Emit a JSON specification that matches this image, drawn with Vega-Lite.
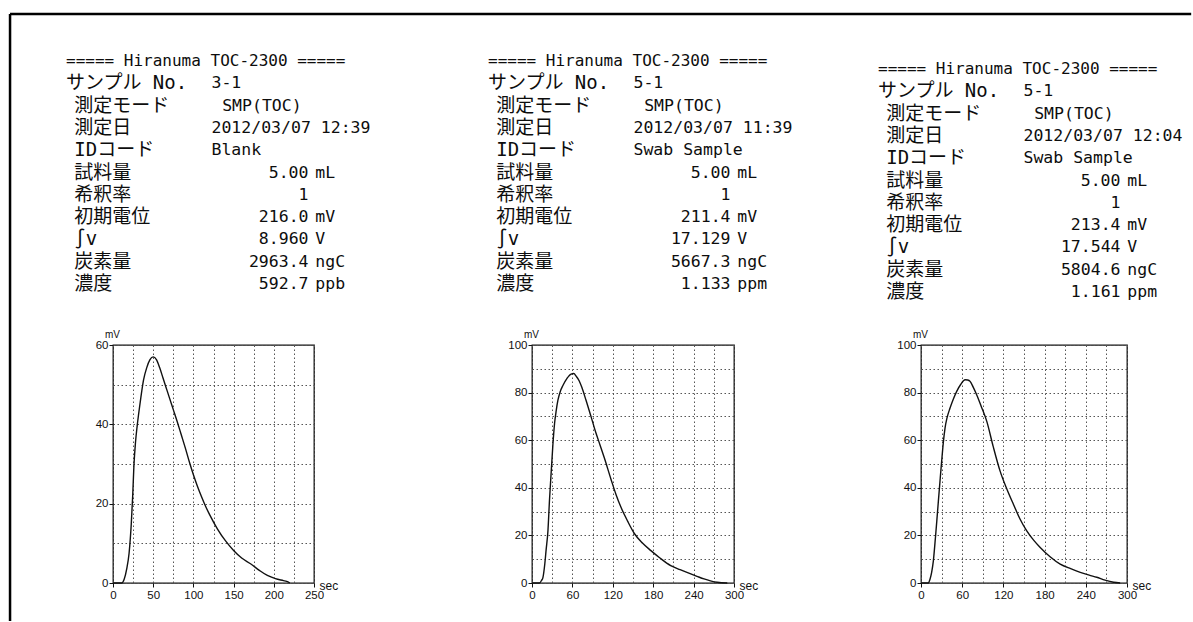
{
  "$schema": "https://vega.github.io/schema/vega-lite/v6.json",
  "background": "white",
  "padding": {"left": 8, "top": 12, "right": 0, "bottom": 0},
  "bounds": "flush",
  "align": "each",
  "columns": 3,
  "spacing": {"row": 41, "column": 187},
  "datasets": {
    "info": [
      {"panel":"A","item":"===== Hiranuma TOC-2300 =====","val":"","num":"","unit":""},
      {"panel":"A","item":"サンプル No.","val":"3-1","num":"","unit":""},
      {"panel":"A","item":"測定モード","val":"SMP(TOC)","num":"","unit":""},
      {"panel":"A","item":"測定日","val":"2012/03/07 12:39","num":"","unit":""},
      {"panel":"A","item":"IDコード","val":"Blank","num":"","unit":""},
      {"panel":"A","item":"試料量","val":"","num":"5.00","unit":"mL"},
      {"panel":"A","item":"希釈率","val":"","num":"1","unit":""},
      {"panel":"A","item":"初期電位","val":"","num":"216.0","unit":"mV"},
      {"panel":"A","item":"∫v","val":"","num":"8.960","unit":"V"},
      {"panel":"A","item":"炭素量","val":"","num":"2963.4","unit":"ngC"},
      {"panel":"A","item":"濃度","val":"","num":"592.7","unit":"ppb"},
      {"panel":"B","item":"===== Hiranuma TOC-2300 =====","val":"","num":"","unit":""},
      {"panel":"B","item":"サンプル No.","val":"5-1","num":"","unit":""},
      {"panel":"B","item":"測定モード","val":"SMP(TOC)","num":"","unit":""},
      {"panel":"B","item":"測定日","val":"2012/03/07 11:39","num":"","unit":""},
      {"panel":"B","item":"IDコード","val":"Swab Sample","num":"","unit":""},
      {"panel":"B","item":"試料量","val":"","num":"5.00","unit":"mL"},
      {"panel":"B","item":"希釈率","val":"","num":"1","unit":""},
      {"panel":"B","item":"初期電位","val":"","num":"211.4","unit":"mV"},
      {"panel":"B","item":"∫v","val":"","num":"17.129","unit":"V"},
      {"panel":"B","item":"炭素量","val":"","num":"5667.3","unit":"ngC"},
      {"panel":"B","item":"濃度","val":"","num":"1.133","unit":"ppm"},
      {"panel":"C","item":"===== Hiranuma TOC-2300 =====","val":"","num":"","unit":""},
      {"panel":"C","item":"サンプル No.","val":"5-1","num":"","unit":""},
      {"panel":"C","item":"測定モード","val":"SMP(TOC)","num":"","unit":""},
      {"panel":"C","item":"測定日","val":"2012/03/07 12:04","num":"","unit":""},
      {"panel":"C","item":"IDコード","val":"Swab Sample","num":"","unit":""},
      {"panel":"C","item":"試料量","val":"","num":"5.00","unit":"mL"},
      {"panel":"C","item":"希釈率","val":"","num":"1","unit":""},
      {"panel":"C","item":"初期電位","val":"","num":"213.4","unit":"mV"},
      {"panel":"C","item":"∫v","val":"","num":"17.544","unit":"V"},
      {"panel":"C","item":"炭素量","val":"","num":"5804.6","unit":"ngC"},
      {"panel":"C","item":"濃度","val":"","num":"1.161","unit":"ppm"}
    ],
    "frame": [
      {"panel":"A","edge":"top"},
      {"panel":"A","edge":"left"}
    ],
    "curves": [
      {"panel":"A","t":0,"mV":0},{"panel":"A","t":11,"mV":0},{"panel":"A","t":14,"mV":1},{"panel":"A","t":17,"mV":3.5},
      {"panel":"A","t":20,"mV":7.5},{"panel":"A","t":22.7,"mV":14.8},{"panel":"A","t":24.5,"mV":22},{"panel":"A","t":26,"mV":29.5},
      {"panel":"A","t":28,"mV":35.5},{"panel":"A","t":30,"mV":39.5},{"panel":"A","t":32,"mV":42.8},{"panel":"A","t":35,"mV":47.3},
      {"panel":"A","t":38,"mV":51.2},{"panel":"A","t":42,"mV":54.3},{"panel":"A","t":46,"mV":56.3},{"panel":"A","t":50,"mV":57},
      {"panel":"A","t":54,"mV":56.3},{"panel":"A","t":58,"mV":54.3},{"panel":"A","t":62,"mV":51.8},{"panel":"A","t":66,"mV":49.3},
      {"panel":"A","t":70,"mV":46.8},{"panel":"A","t":75,"mV":43.7},{"panel":"A","t":80,"mV":40.6},{"panel":"A","t":85,"mV":37.3},
      {"panel":"A","t":90,"mV":34},{"panel":"A","t":95,"mV":30.5},{"panel":"A","t":100,"mV":27.3},{"panel":"A","t":105,"mV":24.4},
      {"panel":"A","t":110,"mV":21.8},{"panel":"A","t":115,"mV":19.4},{"panel":"A","t":120,"mV":17.3},{"panel":"A","t":130,"mV":13.6},
      {"panel":"A","t":140,"mV":10.6},{"panel":"A","t":150,"mV":8.2},{"panel":"A","t":160,"mV":6.3},{"panel":"A","t":171.5,"mV":4.8},
      {"panel":"A","t":182,"mV":3.2},{"panel":"A","t":192,"mV":1.9},{"panel":"A","t":202,"mV":1.1},{"panel":"A","t":212,"mV":0.6},
      {"panel":"A","t":216,"mV":0.4},{"panel":"A","t":220,"mV":0},
      {"panel":"B","t":0,"mV":0},{"panel":"B","t":11,"mV":0},{"panel":"B","t":14,"mV":1},{"panel":"B","t":16.3,"mV":2.4},
      {"panel":"B","t":19,"mV":8},{"panel":"B","t":21,"mV":14},{"panel":"B","t":23.7,"mV":22},{"panel":"B","t":26,"mV":35},
      {"panel":"B","t":28.6,"mV":47},{"panel":"B","t":31,"mV":58},{"panel":"B","t":33.5,"mV":67},{"panel":"B","t":36,"mV":72.5},
      {"panel":"B","t":38.5,"mV":76.8},{"panel":"B","t":42,"mV":80.5},{"panel":"B","t":45.9,"mV":83},{"panel":"B","t":52,"mV":86},
      {"panel":"B","t":58,"mV":87.8},{"panel":"B","t":62,"mV":88},{"panel":"B","t":65.6,"mV":86.9},{"panel":"B","t":70,"mV":85},
      {"panel":"B","t":74,"mV":82.2},{"panel":"B","t":80,"mV":77},{"panel":"B","t":87.8,"mV":69.8},{"panel":"B","t":95,"mV":63},
      {"panel":"B","t":101,"mV":58},{"panel":"B","t":107.5,"mV":52.5},{"panel":"B","t":117.4,"mV":43.5},{"panel":"B","t":125,"mV":37},
      {"panel":"B","t":132,"mV":31.9},{"panel":"B","t":142,"mV":26},{"panel":"B","t":152,"mV":20.8},{"panel":"B","t":164,"mV":16.8},
      {"panel":"B","t":176.6,"mV":13.6},{"panel":"B","t":190,"mV":10.5},{"panel":"B","t":206,"mV":7.3},{"panel":"B","t":220,"mV":5.6},
      {"panel":"B","t":235.8,"mV":3.8},{"panel":"B","t":245,"mV":2.8},{"panel":"B","t":255.5,"mV":1.7},{"panel":"B","t":265,"mV":0.9},
      {"panel":"B","t":275,"mV":0.3},{"panel":"B","t":290,"mV":0},
      {"panel":"C","t":0,"mV":0},{"panel":"C","t":10.7,"mV":0},{"panel":"C","t":13,"mV":1.5},{"panel":"C","t":15.5,"mV":4.5},
      {"panel":"C","t":18,"mV":9.3},{"panel":"C","t":21,"mV":19},{"panel":"C","t":23,"mV":26},{"panel":"C","t":25.3,"mV":34.4},
      {"panel":"C","t":28,"mV":44},{"panel":"C","t":30.1,"mV":51.2},{"panel":"C","t":32.5,"mV":59},{"panel":"C","t":35,"mV":65.1},
      {"panel":"C","t":38,"mV":69.5},{"panel":"C","t":42.3,"mV":73.5},{"panel":"C","t":47,"mV":77.2},{"panel":"C","t":52,"mV":80.5},
      {"panel":"C","t":58,"mV":83.5},{"panel":"C","t":64.2,"mV":85.4},{"panel":"C","t":68,"mV":85.3},{"panel":"C","t":71.5,"mV":84.7},
      {"panel":"C","t":76,"mV":82.3},{"panel":"C","t":81.2,"mV":79},{"panel":"C","t":88,"mV":74},{"panel":"C","t":95.8,"mV":67.9},
      {"panel":"C","t":105,"mV":57.5},{"panel":"C","t":115.2,"mV":47},{"panel":"C","t":125,"mV":39.5},{"panel":"C","t":134.7,"mV":33},
      {"panel":"C","t":144,"mV":27},{"panel":"C","t":154,"mV":21.9},{"panel":"C","t":164,"mV":18},{"panel":"C","t":173.6,"mV":14.9},
      {"panel":"C","t":188,"mV":11},{"panel":"C","t":202.7,"mV":7.9},{"panel":"C","t":218,"mV":6},{"panel":"C","t":231.9,"mV":4.5},
      {"panel":"C","t":245,"mV":3.3},{"panel":"C","t":256,"mV":2.4},{"panel":"C","t":268,"mV":1.2},{"panel":"C","t":280.5,"mV":0.3},
      {"panel":"C","t":290,"mV":0}
    ]
  },
  "concat": [
    {
      "width": 232, "height": 263,
      "view": {"stroke": null},
      "layer": [
        {
          "data": {"name": "info"},
          "transform": [{"filter": "datum.panel === 'A'"}],
          "encoding": {"y": {"field": "item", "type": "nominal", "sort": null, "scale": {"type": "point", "padding": 0.9}, "axis": null}},
          "layer": [
            {"mark": {"type": "text", "align": "left", "baseline": "middle"},
             "encoding": {"x": {"datum": 0, "type": "quantitative", "scale": {"domain": [4.845, 28.763], "nice": false, "zero": false}, "axis": null},
                          "text": {"condition": {"test": "indexof(datum.item, '=') === 0 || indexof(datum.item, 'サンプル') === 0", "field": "item"}, "value": ""},
                          "size": {"condition": {"test": "indexof(datum.item, '=') === 0", "value": 16}, "value": 19}}},
            {"mark": {"type": "text", "align": "left", "baseline": "middle", "fontSize": 19},
             "encoding": {"x": {"datum": 0.85, "type": "quantitative", "scale": {"domain": [4.845, 28.763], "nice": false, "zero": false}, "axis": null},
                          "text": {"condition": {"test": "indexof(datum.item, '=') !== 0 && indexof(datum.item, 'サンプル') !== 0", "field": "item"}, "value": ""}}},
            {"mark": {"type": "text", "align": "left", "baseline": "middle"},
             "encoding": {"x": {"datum": 15, "type": "quantitative", "scale": {"domain": [4.845, 28.763], "nice": false, "zero": false}, "axis": null},
                          "text": {"condition": {"test": "datum.val !== 'SMP(TOC)'", "field": "val"}, "value": ""}}},
            {"mark": {"type": "text", "align": "left", "baseline": "middle"},
             "encoding": {"x": {"datum": 16.1, "type": "quantitative", "scale": {"domain": [4.845, 28.763], "nice": false, "zero": false}, "axis": null},
                          "text": {"condition": {"test": "datum.val === 'SMP(TOC)'", "field": "val"}, "value": ""}}},
            {"mark": {"type": "text", "align": "right", "baseline": "middle"},
             "encoding": {"x": {"datum": 25, "type": "quantitative", "scale": {"domain": [4.845, 28.763], "nice": false, "zero": false}, "axis": null},
                          "text": {"field": "num"}}},
            {"mark": {"type": "text", "align": "left", "baseline": "middle"},
             "encoding": {"x": {"datum": 25.7, "type": "quantitative", "scale": {"domain": [4.845, 28.763], "nice": false, "zero": false}, "axis": null},
                          "text": {"field": "unit"}}}
          ]
        },
        {
          "data": {"name": "frame"},
          "transform": [{"filter": "datum.edge === 'top'"}],
          "mark": {"type": "rule", "color": "#000", "strokeWidth": 2.5},
          "encoding": {"x": {"datum": -5.77, "type": "quantitative", "scale": {"domain": [4.845, 28.763], "nice": false, "zero": false}, "axis": null},
                       "x2": {"datum": 116},
                       "y": {"datum": 1.1027, "type": "quantitative", "scale": {"domain": [0, 1], "nice": false, "zero": false}, "axis": null}}
        },
        {
          "data": {"name": "frame"},
          "transform": [{"filter": "datum.edge === 'left'"}],
          "mark": {"type": "rule", "color": "#000", "strokeWidth": 2.5},
          "encoding": {"x": {"datum": -5.77, "type": "quantitative", "scale": {"domain": [4.845, 28.763], "nice": false, "zero": false}, "axis": null},
                       "y": {"datum": 1.1027, "type": "quantitative", "scale": {"domain": [0, 1], "nice": false, "zero": false}, "axis": null},
                       "y2": {"datum": -1.2053}}
        }
      ],
      "resolve": {"scale": {"y": "independent"}}
    },
    {
      "width": 202, "height": 263,
      "view": {"stroke": null},
      "data": {"name": "info"},
      "transform": [{"filter": "datum.panel === 'B'"}],
      "encoding": {"y": {"field": "item", "type": "nominal", "sort": null, "scale": {"type": "point", "padding": 0.9}, "axis": null}},
      "layer": [
        {"mark": {"type": "text", "align": "left", "baseline": "middle"},
         "encoding": {"x": {"datum": 0, "type": "quantitative", "scale": {"domain": [4.536, 25.361], "nice": false, "zero": false}, "axis": null},
                      "text": {"condition": {"test": "indexof(datum.item, '=') === 0 || indexof(datum.item, 'サンプル') === 0", "field": "item"}, "value": ""},
                      "size": {"condition": {"test": "indexof(datum.item, '=') === 0", "value": 16}, "value": 19}}},
        {"mark": {"type": "text", "align": "left", "baseline": "middle", "fontSize": 19},
         "encoding": {"x": {"datum": 0.85, "type": "quantitative", "scale": {"domain": [4.536, 25.361], "nice": false, "zero": false}, "axis": null},
                      "text": {"condition": {"test": "indexof(datum.item, '=') !== 0 && indexof(datum.item, 'サンプル') !== 0", "field": "item"}, "value": ""}}},
        {"mark": {"type": "text", "align": "left", "baseline": "middle"},
         "encoding": {"x": {"datum": 15, "type": "quantitative", "scale": {"domain": [4.536, 25.361], "nice": false, "zero": false}, "axis": null},
                      "text": {"condition": {"test": "datum.val !== 'SMP(TOC)'", "field": "val"}, "value": ""}}},
        {"mark": {"type": "text", "align": "left", "baseline": "middle"},
         "encoding": {"x": {"datum": 16.1, "type": "quantitative", "scale": {"domain": [4.536, 25.361], "nice": false, "zero": false}, "axis": null},
                      "text": {"condition": {"test": "datum.val === 'SMP(TOC)'", "field": "val"}, "value": ""}}},
        {"mark": {"type": "text", "align": "right", "baseline": "middle"},
         "encoding": {"x": {"datum": 25, "type": "quantitative", "scale": {"domain": [4.536, 25.361], "nice": false, "zero": false}, "axis": null},
                      "text": {"field": "num"}}},
        {"mark": {"type": "text", "align": "left", "baseline": "middle"},
         "encoding": {"x": {"datum": 25.7, "type": "quantitative", "scale": {"domain": [4.536, 25.361], "nice": false, "zero": false}, "axis": null},
                      "text": {"field": "unit"}}}
      ]
    },
    {
      "width": 206, "height": 263,
      "view": {"stroke": null},
      "data": {"name": "info"},
      "transform": [{"filter": "datum.panel === 'C'"}],
      "encoding": {"y": {"field": "item", "type": "nominal", "sort": null, "scale": {"type": "point", "padding": 0.9, "align": 0.7}, "axis": null}},
      "layer": [
        {"mark": {"type": "text", "align": "left", "baseline": "middle"},
         "encoding": {"x": {"datum": 0, "type": "quantitative", "scale": {"domain": [4.433, 25.67], "nice": false, "zero": false}, "axis": null},
                      "text": {"condition": {"test": "indexof(datum.item, '=') === 0 || indexof(datum.item, 'サンプル') === 0", "field": "item"}, "value": ""},
                      "size": {"condition": {"test": "indexof(datum.item, '=') === 0", "value": 16}, "value": 19}}},
        {"mark": {"type": "text", "align": "left", "baseline": "middle", "fontSize": 19},
         "encoding": {"x": {"datum": 0.85, "type": "quantitative", "scale": {"domain": [4.433, 25.67], "nice": false, "zero": false}, "axis": null},
                      "text": {"condition": {"test": "indexof(datum.item, '=') !== 0 && indexof(datum.item, 'サンプル') !== 0", "field": "item"}, "value": ""}}},
        {"mark": {"type": "text", "align": "left", "baseline": "middle"},
         "encoding": {"x": {"datum": 15, "type": "quantitative", "scale": {"domain": [4.433, 25.67], "nice": false, "zero": false}, "axis": null},
                      "text": {"condition": {"test": "datum.val !== 'SMP(TOC)'", "field": "val"}, "value": ""}}},
        {"mark": {"type": "text", "align": "left", "baseline": "middle"},
         "encoding": {"x": {"datum": 16.1, "type": "quantitative", "scale": {"domain": [4.433, 25.67], "nice": false, "zero": false}, "axis": null},
                      "text": {"condition": {"test": "datum.val === 'SMP(TOC)'", "field": "val"}, "value": ""}}},
        {"mark": {"type": "text", "align": "right", "baseline": "middle"},
         "encoding": {"x": {"datum": 25, "type": "quantitative", "scale": {"domain": [4.433, 25.67], "nice": false, "zero": false}, "axis": null},
                      "text": {"field": "num"}}},
        {"mark": {"type": "text", "align": "left", "baseline": "middle"},
         "encoding": {"x": {"datum": 25.7, "type": "quantitative", "scale": {"domain": [4.433, 25.67], "nice": false, "zero": false}, "axis": null},
                      "text": {"field": "unit"}}}
      ]
    },
    {
      "width": 201, "height": 238,
      "data": {"name": "curves"},
      "transform": [{"filter": "datum.panel === 'A'"}],
      "mark": {"type": "line", "interpolate": "monotone", "color": "#111", "strokeWidth": 1.4},
      "encoding": {
        "x": {"field": "t", "type": "quantitative", "scale": {"domain": [0, 250], "nice": false},
              "axis": {"values": [0,25,50,75,100,125,150,175,200,225,250],
                       "labelExpr": "datum.value % 50 === 0 ? datum.label : ''",
                       "tickOpacity": {"condition": {"test": "datum.value % 50 === 0", "value": 1}, "value": 0},
                       "labelPadding": 2, "title": "sec", "titleX": 206, "titleY": 2, "titleAlign": "left", "titleBaseline": "middle", "titleFontSize": 12}},
        "y": {"field": "mV", "type": "quantitative", "scale": {"domain": [0, 60], "nice": false},
              "axis": {"values": [0,10,20,30,40,50,60],
                       "labelExpr": "datum.value % 20 === 0 ? datum.label : ''",
                       "tickOpacity": {"condition": {"test": "datum.value % 20 === 0", "value": 1}, "value": 0},
                       "labelPadding": 1, "title": "mV", "titleAngle": 0, "titleX": -1, "titleY": -6, "titleAlign": "center", "titleBaseline": "bottom", "titleFontSize": 10}}
      }
    },
    {
      "width": 202, "height": 238,
      "data": {"name": "curves"},
      "transform": [{"filter": "datum.panel === 'B'"}],
      "mark": {"type": "line", "interpolate": "monotone", "color": "#111", "strokeWidth": 1.4},
      "encoding": {
        "x": {"field": "t", "type": "quantitative", "scale": {"domain": [0, 300], "nice": false},
              "axis": {"values": [0,30,60,90,120,150,180,210,240,270,300],
                       "labelExpr": "datum.value % 60 === 0 ? datum.label : ''",
                       "tickOpacity": {"condition": {"test": "datum.value % 60 === 0", "value": 1}, "value": 0},
                       "labelPadding": 2, "title": "sec", "titleX": 207, "titleY": 2, "titleAlign": "left", "titleBaseline": "middle", "titleFontSize": 12}},
        "y": {"field": "mV", "type": "quantitative", "scale": {"domain": [0, 100], "nice": false},
              "axis": {"values": [0,10,20,30,40,50,60,70,80,90,100],
                       "labelExpr": "datum.value % 20 === 0 ? datum.label : ''",
                       "tickOpacity": {"condition": {"test": "datum.value % 20 === 0", "value": 1}, "value": 0},
                       "labelPadding": 1, "title": "mV", "titleAngle": 0, "titleX": -1, "titleY": -6, "titleAlign": "center", "titleBaseline": "bottom", "titleFontSize": 10}}
      }
    },
    {
      "width": 206, "height": 238,
      "data": {"name": "curves"},
      "transform": [{"filter": "datum.panel === 'C'"}],
      "mark": {"type": "line", "interpolate": "monotone", "color": "#111", "strokeWidth": 1.4},
      "encoding": {
        "x": {"field": "t", "type": "quantitative", "scale": {"domain": [0, 300], "nice": false},
              "axis": {"values": [0,30,60,90,120,150,180,210,240,270,300],
                       "labelExpr": "datum.value % 60 === 0 ? datum.label : ''",
                       "tickOpacity": {"condition": {"test": "datum.value % 60 === 0", "value": 1}, "value": 0},
                       "labelPadding": 2, "title": "sec", "titleX": 211, "titleY": 2, "titleAlign": "left", "titleBaseline": "middle", "titleFontSize": 12}},
        "y": {"field": "mV", "type": "quantitative", "scale": {"domain": [0, 100], "nice": false},
              "axis": {"values": [0,10,20,30,40,50,60,70,80,90,100],
                       "labelExpr": "datum.value % 20 === 0 ? datum.label : ''",
                       "tickOpacity": {"condition": {"test": "datum.value % 20 === 0", "value": 1}, "value": 0},
                       "labelPadding": 1, "title": "mV", "titleAngle": 0, "titleX": -1, "titleY": -6, "titleAlign": "center", "titleBaseline": "bottom", "titleFontSize": 10}}
      }
    }
  ],
  "config": {
    "view": {"stroke": "#111", "strokeWidth": 1.3},
    "text": {"color": "#0d0d0d", "font": "DejaVu Sans Mono, Noto Sans CJK JP", "fontSize": 16.5},
    "axis": {
      "domain": false, "grid": true, "gridColor": "#555", "gridDash": [1.5, 2.5], "gridWidth": 1,
      "tickColor": "#111", "tickSize": 4, "tickWidth": 1,
      "labelFont": "Liberation Sans", "labelFontSize": 11.5, "labelColor": "#111",
      "labelFlush": false, "labelOverlap": false,
      "titleFont": "Liberation Sans", "titleFontWeight": "normal", "titleColor": "#111"
    }
  }
}
